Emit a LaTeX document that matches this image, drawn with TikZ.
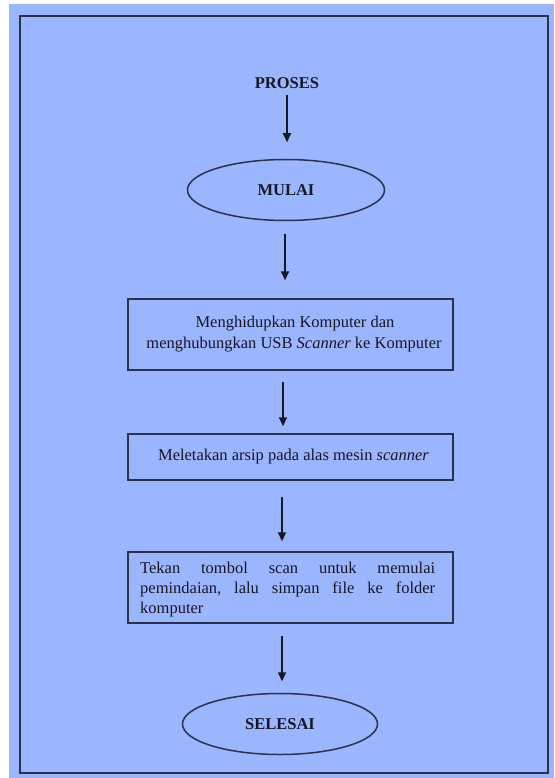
\documentclass[tikz,border=0pt]{standalone}
\usepackage{fontspec}
\setmainfont{Liberation Serif}
\usetikzlibrary{shapes.geometric,arrows.meta}
\definecolor{bgblue}{RGB}{155,182,254}
\definecolor{frame}{RGB}{44,50,74}
\definecolor{ink}{RGB}{22,24,34}
\newcommand{\gapfill}{\hspace{0pt plus 1fill}}
\tikzset{
  stepbox/.style={draw=frame, line width=1.5pt, rectangle, minimum width=325pt, inner sep=0pt, text=ink, font=\fontsize{16.5pt}{21pt}\selectfont},
  terminal/.style={draw=frame, line width=1.5pt, ellipse, inner sep=0pt, text=ink, font=\fontsize{16.5pt}{21pt}\selectfont\bfseries},
  arr/.style={draw=ink, line width=2pt, -{Triangle[length=9pt,width=8pt]}}
}
\begin{document}
\begin{tikzpicture}[x=1pt,y=-1pt]
\useasboundingbox (0,0) rectangle (554,778);
\fill[white] (0,0) rectangle (554,778);
\fill[bgblue] (9,4) rectangle (554,778);
\draw[frame, line width=2.5pt] (20,16) rectangle (548,773);

\node[anchor=base, inner sep=0pt, text=ink, font=\fontsize{16.5pt}{21pt}\selectfont\bfseries] (proses) at (287,89) {PROSES};
\node[terminal, minimum width=197pt, minimum height=61pt] (mulai) at (286,190) {MULAI};
\node[stepbox, minimum height=71pt, align=center] (box1) at (290.5,334.5)
  {\hspace*{9pt}Menghidupkan Komputer dan\\ \hspace*{7pt}menghubungkan USB \textit{Scanner} ke Komputer};
\node[stepbox, minimum height=46pt] (box2) at (290.5,457) {\hspace*{6pt}Meletakan arsip pada alas mesin \textit{scanner}};
\node[draw=frame, line width=1.5pt, minimum width=325pt, minimum height=71pt, inner sep=0pt] (box3) at (290.5,587.5) {};
\node[inner sep=0pt, text=ink, font=\fontsize{16.5pt}{20pt}\selectfont, anchor=west, align=left] (box3text) at (140,590)
  {\makebox[295pt][s]{Tekan\gapfill tombol\gapfill scan\gapfill untuk\gapfill memulai}\\
   \makebox[295pt][s]{pemindaian,\gapfill lalu\gapfill simpan\gapfill file\gapfill ke\gapfill folder}\\
   komputer};
\node[terminal, minimum width=195pt, minimum height=61pt] (selesai) at (280,724) {SELESAI};

\draw[arr, shorten <=6pt, shorten >=16.5pt] (proses.south) -- (proses.south |- mulai.north);
\draw[arr, shorten <=12.5pt, shorten >=18pt] ([xshift=-1pt]mulai.south) -- ([xshift=-1pt]mulai.south |- box1.north);
\draw[arr, shorten <=11pt, shorten >=7pt] ([xshift=-7.5pt]box1.south) -- ([xshift=-7.5pt]box2.north);
\draw[arr, shorten <=16pt, shorten >=10pt] ([xshift=-8.5pt]box2.south) -- ([xshift=-8.5pt]box3.north);
\draw[arr, shorten <=12pt, shorten >=11.5pt] ([xshift=-8.5pt]box3.south) -- ([xshift=-8.5pt]box3.south |- selesai.north);
\end{tikzpicture}
\end{document}
